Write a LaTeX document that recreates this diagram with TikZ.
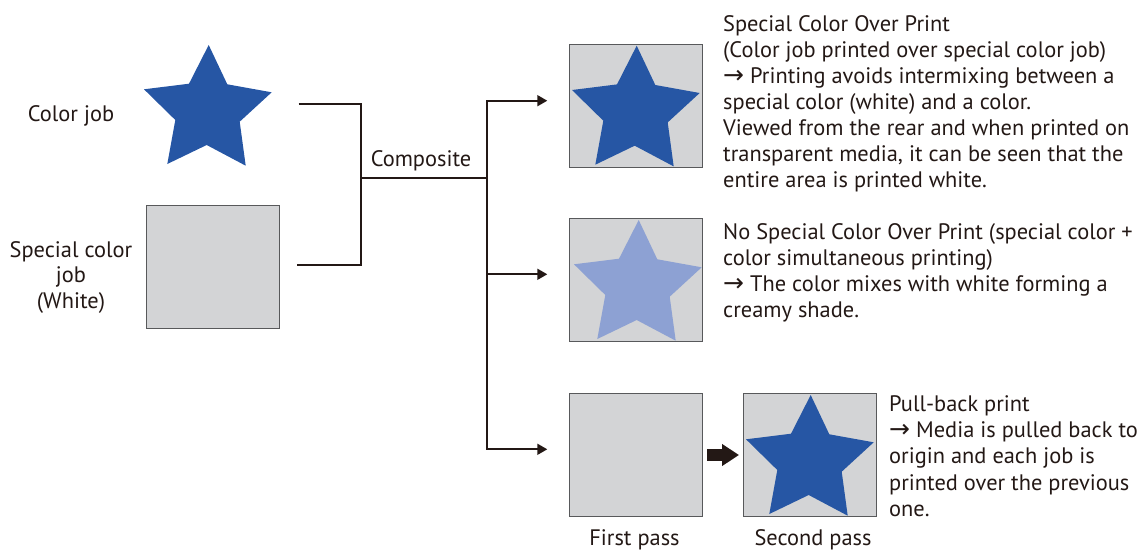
\documentclass[tikz,border=0pt]{standalone}
\usepackage{fontspec}
\setmainfont{PT Sans}
\newfontfamily\arrowfont{DejaVu Sans}
\usetikzlibrary{arrows.meta}
\definecolor{ink}{HTML}{231815}
\definecolor{starblue}{HTML}{2656A4}
\definecolor{starlight}{HTML}{8DA1D3}
\definecolor{sqfill}{HTML}{D3D4D6}
\definecolor{sqline}{HTML}{58595B}
\newcommand\rarr{{\arrowfont\fontsize{25}{26.1}\selectfont →}}
\tikzset{
  bluestar/.pic={
    \path[pic actions] (0,0) -- (18.6,39.3) -- (63,47.3) -- (31,76.7) -- (37,120.7)
      -- (-2,100) -- (-41.4,119) -- (-33.4,75) -- (-64.7,44.3) -- (-19.7,38.7) -- cycle;
  }
}
\begin{document}
\begin{tikzpicture}[x=1pt,y=-1pt,
  sq/.style={draw=sqline, fill=sqfill, line width=1.2pt, minimum width=133pt, minimum height=123pt, inner sep=0pt, outer sep=0pt},
  conn/.style={draw=ink, line width=1.7pt},
  tip/.tip={Triangle[length=10pt,width=11pt]},
  arr/.style={conn, -tip},
  arrtwo/.style={conn, tip-tip},
  txt/.style={text=ink, font=\fontsize{22.4}{26.1}\selectfont, inner sep=0pt, align=left, anchor=base west},
  lbl/.style={text=ink, font=\fontsize{22.4}{25.5}\selectfont, inner sep=0pt, align=center, anchor=base}
]
\useasboundingbox (0,0) rectangle (1142,551);

% squares
\node[sq] (s0) at (213.3,266.7) {};
\node[sq] (s1) at (636,105.7) {};
\node[sq] (s2) at (635.8,280.3) {};
\node[sq] (s3) at (635.8,455) {};
\node[sq] (s4) at (810,455) {};

% stars
\pic[fill=starblue] at (208.7,45) {bluestar};
\pic[fill=starblue] at (636.7,45.7) {bluestar};
\pic[fill=starlight] at (638.7,220) {bluestar};
\pic[fill=starblue] at (810.7,395) {bluestar};

% connectors
\coordinate (j1) at (298.7,104);
\coordinate (j2) at (296.7,265);
\coordinate (bt) at (361,104);
\coordinate (bb) at (361,265);
\coordinate (m) at (361,178.3);
\coordinate (sp) at (487.3,178.3);
\coordinate (v1) at (487.3,100.7);
\coordinate (v2) at (487.3,274.3);
\coordinate (v3) at (487.3,449.3);
\coordinate (t1) at (547.3,100.7);
\coordinate (t2) at (547.3,274.3);
\coordinate (t3) at (547.3,449.3);

\draw[conn] (j1) -- (bt) -- (bb) -- (j2);
\draw[conn] (m) -- (sp);
\draw[arrtwo] (t1) -- (v1) -- (v3) -- (t3);
\draw[arr] (v2) -- (t2);

\draw[ink, line width=11.7pt, -{Triangle[length=17pt,width=21pt]}, shorten <=4.7pt, shorten >=4.5pt] (s3.east) -- (s4.west);

% labels
\node[lbl] (cj) at (71,121) {Color job};
\node[lbl] (sj) at (71,308) {Special color\\job\\(White)};
\node[lbl] (comp) at (421,166) {Composite};
\node[lbl] (fp) at (634.5,545.7) {First pass};
\node[lbl] (scp) at (813,545.7) {Second pass};

\node[txt] (d1) at (723,187.6) {Special Color Over Print\\(Color job printed over special color job)\\\rarr{} Printing avoids intermixing between a\\special color (white) and a color.\\Viewed from the rear and when printed on\\transparent media, it can be seen that the\\entire area is printed white.};
\node[txt] (d2) at (723,317.6) {No Special Color Over Print (special color +\\color simultaneous printing)\\\rarr{} The color mixes with white forming a\\creamy shade.};
\node[txt] (d3) at (889,516.1) {Pull-back print\\\rarr{} Media is pulled back to\\origin and each job is\\printed over the previous\\one.};
\end{tikzpicture}
\end{document}
